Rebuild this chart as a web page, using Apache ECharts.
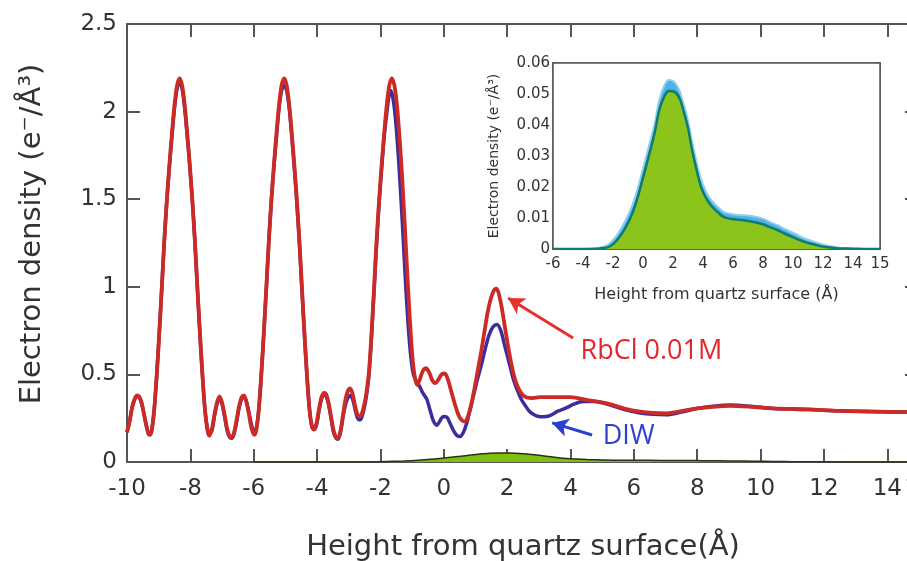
<!DOCTYPE html>
<html>
<head>
<meta charset="utf-8">
<script src="https://cdn.jsdelivr.net/npm/echarts@6/dist/echarts.min.js"></script>
<style>
html,body{margin:0;padding:0;background:#fff;}
#chart{width:907px;height:561px;}
</style>
</head>
<body>
<div id="chart"></div>
<script>
// ---------- Main chart data ----------
const rbclX = [
  -10.0,-9.92,-9.84,-9.76,-9.68,-9.62,-9.54,-9.46,-9.38,-9.32,
  -9.28,-9.22,-9.14,-9.06,-8.98,-8.9,-8.82,-8.74,-8.66,-8.58,
  -8.5,-8.42,-8.34,-8.26,-8.18,-8.1,-8.02,-7.94,-7.86,-7.78,
  -7.7,-7.62,-7.54,-7.46,-7.4,-7.32,-7.24,-7.16,-7.08,-7.0,
  -6.92,-6.84,-6.76,-6.7,-6.62,-6.54,-6.46,-6.38,-6.31,-6.24,
  -6.16,-6.08,-6.02,-5.98,-5.92,-5.84,-5.76,-5.68,-5.6,-5.52,
  -5.44,-5.36,-5.28,-5.2,-5.12,-5.04,-4.96,-4.88,-4.8,-4.72,
  -4.64,-4.56,-4.48,-4.4,-4.32,-4.24,-4.16,-4.1,-4.02,-3.94,
  -3.86,-3.78,-3.72,-3.64,-3.56,-3.48,-3.4,-3.34,-3.26,-3.18,
  -3.1,-3.02,-2.96,-2.88,-2.8,-2.72,-2.65,-2.6,-2.52,-2.44,
  -2.36,-2.28,-2.2,-2.12,-2.04,-1.96,-1.88,-1.8,-1.72,-1.64,
  -1.56,-1.48,-1.4,-1.32,-1.24,-1.16,-1.08,-1.0,-0.92,-0.84,
  -0.76,-0.66,-0.56,-0.46,-0.36,-0.27,-0.17,-0.07,0.03,0.13,
  0.24,0.35,0.46,0.56,0.67,0.78,0.88,0.98,1.08,1.18,
  1.28,1.38,1.48,1.58,1.65,1.72,1.82,1.92,2.02,2.12,
  2.22,2.32,2.42,2.52,2.62,2.8,3.04,3.5,4.0,4.5,
  5.15,5.7,6.2,6.6,7.04,7.5,8.0,8.5,9.04,9.7,
  10.4,11.5,12.5,13.5,14.6,15.0];
const rbclY = [
  0.17,0.23,0.31,0.36,0.38,0.375,0.34,0.27,0.2,0.16,
  0.155,0.18,0.3,0.5,0.74,1.0,1.27,1.5,1.7,1.88,
  2.04,2.15,2.19,2.15,2.04,1.88,1.7,1.5,1.27,1.0,
  0.74,0.5,0.3,0.18,0.15,0.19,0.27,0.34,0.375,0.34,
  0.27,0.19,0.145,0.14,0.17,0.24,0.32,0.37,0.38,0.35,
  0.28,0.2,0.165,0.155,0.18,0.3,0.5,0.74,1.0,1.27,
  1.5,1.7,1.88,2.04,2.15,2.19,2.15,2.04,1.88,1.7,
  1.5,1.27,1.0,0.74,0.5,0.3,0.2,0.185,0.22,0.3,
  0.37,0.395,0.39,0.34,0.26,0.18,0.14,0.135,0.18,0.27,
  0.36,0.41,0.42,0.39,0.32,0.27,0.26,0.27,0.32,0.4,
  0.52,0.74,1.0,1.27,1.5,1.7,1.88,2.04,2.15,2.19,
  2.15,2.04,1.86,1.64,1.38,1.1,0.84,0.62,0.49,0.44,
  0.47,0.52,0.535,0.51,0.465,0.45,0.47,0.5,0.505,0.47,
  0.4,0.33,0.27,0.24,0.23,0.27,0.34,0.43,0.53,0.63,
  0.74,0.85,0.93,0.98,0.99,0.97,0.89,0.78,0.67,0.57,
  0.49,0.435,0.4,0.378,0.368,0.365,0.37,0.37,0.37,0.355,
  0.335,0.305,0.287,0.28,0.278,0.29,0.306,0.315,0.32,0.315,
  0.306,0.3,0.292,0.288,0.285,0.285];

const diwX = [
  -10.0,-9.92,-9.84,-9.76,-9.68,-9.62,-9.54,-9.46,-9.38,-9.32,
  -9.28,-9.22,-9.14,-9.06,-8.98,-8.9,-8.82,-8.74,-8.66,-8.58,
  -8.5,-8.42,-8.34,-8.26,-8.18,-8.1,-8.02,-7.94,-7.86,-7.78,
  -7.7,-7.62,-7.54,-7.46,-7.4,-7.32,-7.24,-7.16,-7.08,-7.0,
  -6.92,-6.84,-6.76,-6.7,-6.62,-6.54,-6.46,-6.38,-6.31,-6.24,
  -6.16,-6.08,-6.02,-5.98,-5.92,-5.84,-5.76,-5.68,-5.6,-5.52,
  -5.44,-5.36,-5.28,-5.2,-5.12,-5.04,-4.96,-4.88,-4.8,-4.72,
  -4.64,-4.56,-4.48,-4.4,-4.32,-4.24,-4.16,-4.1,-4.02,-3.94,
  -3.86,-3.78,-3.72,-3.64,-3.56,-3.48,-3.4,-3.34,-3.26,-3.18,
  -3.1,-3.02,-2.96,-2.88,-2.8,-2.72,-2.65,-2.6,-2.52,-2.44,
  -2.36,-2.28,-2.2,-2.12,-2.04,-1.96,-1.88,-1.8,-1.73,-1.67,
  -1.6,-1.52,-1.44,-1.36,-1.28,-1.2,-1.12,-1.04,-0.96,-0.86,
  -0.76,-0.65,-0.54,-0.44,-0.33,-0.22,-0.12,-0.02,0.1,0.2,
  0.32,0.42,0.52,0.62,0.72,0.82,0.94,1.06,1.18,1.3,
  1.42,1.55,1.68,1.8,1.9,2.0,2.1,2.2,2.32,2.44,
  2.56,2.7,2.85,3.0,3.15,3.35,3.6,3.88,4.1,4.4,
  4.8,5.15,5.7,6.2,6.6,7.04,7.5,8.0,8.5,9.04,
  9.7,10.4,11.5,12.5,13.5,14.6,15.0];
const diwY = [
  0.17,0.23,0.31,0.355,0.375,0.37,0.335,0.27,0.2,0.16,
  0.155,0.18,0.3,0.5,0.74,1.0,1.27,1.5,1.69,1.86,
  2.02,2.13,2.17,2.13,2.02,1.86,1.69,1.5,1.27,1.0,
  0.74,0.5,0.3,0.19,0.16,0.18,0.26,0.33,0.365,0.33,
  0.26,0.18,0.14,0.135,0.16,0.23,0.31,0.36,0.37,0.35,
  0.29,0.22,0.18,0.17,0.19,0.3,0.5,0.74,1.0,1.27,
  1.5,1.69,1.86,2.02,2.12,2.15,2.12,2.02,1.86,1.68,
  1.48,1.25,0.99,0.73,0.49,0.3,0.2,0.185,0.21,0.29,
  0.36,0.385,0.38,0.33,0.25,0.17,0.135,0.13,0.17,0.26,
  0.33,0.37,0.38,0.36,0.3,0.25,0.24,0.25,0.3,0.38,
  0.5,0.72,0.98,1.25,1.48,1.68,1.86,1.99,2.09,2.12,
  2.07,1.95,1.76,1.53,1.27,1.0,0.77,0.6,0.5,0.46,
  0.43,0.39,0.36,0.3,0.235,0.21,0.235,0.26,0.255,0.22,
  0.175,0.15,0.145,0.17,0.22,0.29,0.38,0.47,0.55,0.64,
  0.72,0.77,0.785,0.75,0.68,0.61,0.54,0.47,0.41,0.36,
  0.325,0.29,0.27,0.26,0.258,0.265,0.29,0.31,0.33,0.345,
  0.345,0.33,0.3,0.28,0.272,0.27,0.285,0.305,0.318,0.325,
  0.318,0.305,0.3,0.292,0.288,0.285,0.285];

// ---------- Inset (ion) data ----------
const insetX = [-6,-4,-3,-2.6,-2.23,-1.8,-1.27,-0.8,-0.41,0,0.44,0.8,1.08,1.4,1.73,2.05,2.4,2.69,3.0,3.23,3.55,3.87,4.2,4.51,5.0,5.37,5.9,6.44,7.3,8.0,8.37,9.0,9.44,10.1,10.72,11.3,11.8,12.5,13.07,14,15,15.8];
const insetMean = [0,0,0.0001,0.0003,0.0008,0.0025,0.006,0.0105,0.0158,0.023,0.031,0.038,0.0448,0.049,0.051,0.0508,0.049,0.0448,0.039,0.033,0.026,0.02,0.0165,0.0142,0.0118,0.0104,0.0097,0.0094,0.0088,0.008,0.0072,0.006,0.005,0.0036,0.0024,0.0016,0.001,0.0005,0.0002,0.0001,0,0];
const insetUpper = [0,0,0.0003,0.0008,0.0018,0.004,0.0082,0.013,0.0185,0.026,0.034,0.041,0.048,0.0525,0.0545,0.054,0.0515,0.047,0.0415,0.0355,0.0285,0.0225,0.0185,0.016,0.0135,0.012,0.0113,0.011,0.0106,0.0098,0.0089,0.0076,0.0065,0.005,0.0035,0.0025,0.0017,0.0009,0.0004,0.0001,0,0];

// annotation labels and arrow anchors (data coordinates)
const rbclLabel = 'RbCl 0.01M';
const diwLabel = 'DIW';
const rbclArrow = [[4.08, 0.708], [2.03, 0.936]];
const diwArrow = [[4.68, 0.154], [3.42, 0.223]];
const rbclLabelAt = [4.3, 0.634];
const diwLabelAt = [5.0, 0.148];

const pairs = (xs, ys) => xs.map((x, i) => [x, ys[i]]);

const FONT = 'DejaVu Sans';
const AX = '#555';

const chart = echarts.init(document.getElementById('chart'), null, {renderer: 'canvas'});
chart.setOption({
  animation: false,
  backgroundColor: '#fff',
  grid: [
    {left: 127, right: -12, top: 24, bottom: 99, outerBoundsMode: 'none', containLabel: false},
    {left: 553, right: 27, top: 63, bottom: 312, show: true, backgroundColor: '#fff', borderColor: '#555', borderWidth: 1.5, z: 5, outerBoundsMode: 'none', containLabel: false}
  ],
  xAxis: [
    {type: 'value', gridIndex: 0, min: -10, max: 15, interval: 2, position: 'bottom',
     axisLine: {onZero: false, lineStyle: {color: AX, width: 2}},
     axisTick: {inside: true, length: 13, lineStyle: {color: AX, width: 2}},
     axisLabel: {fontSize: 23, color: '#333', margin: 16, fontFamily: FONT},
     splitLine: {show: false},
     name: 'Height from quartz surface(Å)', nameLocation: 'middle', nameGap: 71,
     nameTextStyle: {fontSize: 29, color: '#333', fontFamily: FONT}},
    {type: 'value', gridIndex: 0, min: -10, max: 15, interval: 2, position: 'top',
     axisLine: {onZero: false, lineStyle: {color: AX, width: 2}},
     axisTick: {inside: true, length: 13, lineStyle: {color: AX, width: 2}},
     axisLabel: {show: false}, splitLine: {show: false}},
    {type: 'value', gridIndex: 1, min: -6, max: 15.8, interval: 2, position: 'bottom',
     axisLine: {onZero: false, lineStyle: {color: AX, width: 1.5}},
     axisTick: {inside: true, length: 5, lineStyle: {color: AX, width: 1.5}},
     axisLabel: {fontSize: 15, color: '#333', margin: 8, fontFamily: FONT,
                 formatter: v => (v > 14 ? '15' : String(v))},
     splitLine: {show: false},
     name: 'Height from quartz surface (Å)', nameLocation: 'middle', nameGap: 38,
     nameTextStyle: {fontSize: 16, color: '#333', fontFamily: FONT}},
    {type: 'value', gridIndex: 1, min: -6, max: 15.8, interval: 2, position: 'top',
     axisLine: {onZero: false, lineStyle: {color: AX, width: 1.5}},
     axisTick: {inside: true, length: 5, lineStyle: {color: AX, width: 1.5}},
     axisLabel: {show: false}, splitLine: {show: false}}
  ],
  yAxis: [
    {type: 'value', gridIndex: 0, min: 0, max: 2.5, interval: 0.5, position: 'left',
     axisLine: {show: true, onZero: false, lineStyle: {color: AX, width: 2}},
     axisTick: {show: true, inside: true, length: 13, lineStyle: {color: AX, width: 2}},
     axisLabel: {fontSize: 23, color: '#333', margin: 10, fontFamily: FONT},
     splitLine: {show: false},
     name: 'Electron density (e⁻/Å³)', nameLocation: 'middle', nameGap: 80,
     nameTextStyle: {fontSize: 29, color: '#333', fontFamily: FONT, padding: [0, 0, 0, 18]}},
    {type: 'value', gridIndex: 0, min: 0, max: 2.5, interval: 0.5, position: 'right',
     axisLine: {show: true, onZero: false, lineStyle: {color: AX, width: 2}},
     axisTick: {show: true, inside: true, length: 14, lineStyle: {color: AX, width: 2}},
     axisLabel: {show: false}, splitLine: {show: false}},
    {type: 'value', gridIndex: 1, min: 0, max: 0.06, interval: 0.01, position: 'left',
     axisLine: {show: true, onZero: false, lineStyle: {color: AX, width: 1.5}},
     axisTick: {show: true, inside: true, length: 5, lineStyle: {color: AX, width: 1.5}},
     axisLabel: {fontSize: 15, color: '#333', margin: 3, fontFamily: FONT},
     splitLine: {show: false},
     name: 'Electron density (e⁻/Å³)', nameLocation: 'middle', nameGap: 52,
     nameTextStyle: {fontSize: 14, color: '#333', fontFamily: FONT}},
    {type: 'value', gridIndex: 1, min: 0, max: 0.06, interval: 0.01, position: 'right',
     axisLine: {show: true, onZero: false, lineStyle: {color: AX, width: 1.5}},
     axisTick: {show: true, inside: true, length: 5, lineStyle: {color: AX, width: 1.5}},
     axisLabel: {show: false}, splitLine: {show: false}}
  ],
  series: [
    {type: 'line', name: 'ion', xAxisIndex: 0, yAxisIndex: 0, data: pairs(insetX, insetMean),
     showSymbol: false, smooth: 0.4, z: 2,
     lineStyle: {color: '#26330f', width: 1.5},
     areaStyle: {color: '#7fbf12', opacity: 1}},
    {type: 'line', name: 'DIW', xAxisIndex: 0, yAxisIndex: 0, data: pairs(diwX, diwY),
     showSymbol: false, smooth: 0.3, z: 3,
     lineStyle: {color: '#3d2c9e', width: 3.5},
     markLine: {silent: true, symbol: ['none', 'arrow'], symbolSize: [14, 16],
       lineStyle: {color: '#2a3fd0', width: 3, type: 'solid'}, label: {show: false},
       data: [[{coord: diwArrow[0]}, {coord: diwArrow[1]}]]},
     markPoint: {silent: true, symbol: 'circle', symbolSize: 1, itemStyle: {color: 'rgba(0,0,0,0)'},
       label: {show: true, position: 'right', distance: 0, formatter: diwLabel,
               color: '#2f3fcf', fontSize: 27, fontFamily: 'Open Sans'},
       data: [{coord: diwLabelAt}]}},
    {type: 'line', name: 'RbCl 0.01M', xAxisIndex: 0, yAxisIndex: 0, data: pairs(rbclX, rbclY),
     showSymbol: false, smooth: 0.3, z: 4,
     lineStyle: {color: '#cc2a25', width: 3.8},
     markLine: {silent: true, symbol: ['none', 'arrow'], symbolSize: [14, 16],
       lineStyle: {color: '#e8302a', width: 3, type: 'solid'}, label: {show: false},
       data: [[{coord: rbclArrow[0]}, {coord: rbclArrow[1]}]]},
     markPoint: {silent: true, symbol: 'circle', symbolSize: 1, itemStyle: {color: 'rgba(0,0,0,0)'},
       label: {show: true, position: 'right', distance: 0, formatter: rbclLabel,
               color: '#e3262b', fontSize: 27, fontFamily: 'Open Sans'},
       data: [{coord: rbclLabelAt}]}},
    {type: 'line', name: 'ion upper', xAxisIndex: 2, yAxisIndex: 2, data: pairs(insetX, insetUpper),
     showSymbol: false, smooth: 0.4, z: 6,
     lineStyle: {color: '#8ccff0', width: 2},
     areaStyle: {color: '#4fb0e2', opacity: 1}},
    {type: 'line', name: 'ion mean', xAxisIndex: 2, yAxisIndex: 2, data: pairs(insetX, insetMean),
     showSymbol: false, smooth: 0.4, z: 7,
     lineStyle: {color: '#0b7d72', width: 2.5},
     areaStyle: {color: '#8cc41c', opacity: 1}}
  ]
});
</script>
</body>
</html>
